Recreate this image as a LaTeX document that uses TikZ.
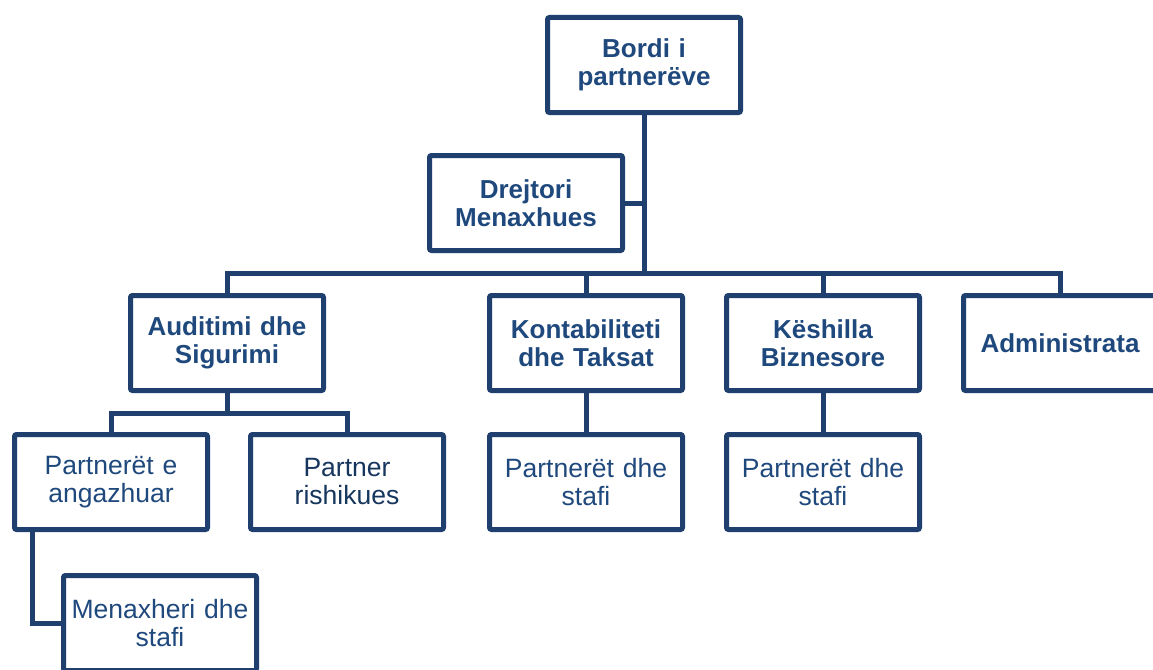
\documentclass[tikz,border=0pt]{standalone}
\usepackage{fontspec}
\setmainfont{Liberation Sans}
\definecolor{boxline}{HTML}{1F3F6E}
\definecolor{txtblue}{HTML}{1F497D}
\definecolor{txtdark}{HTML}{17365D}
\begin{document}
\begin{tikzpicture}[x=1pt,y=-1pt,
  orgbox/.style={draw=boxline, line width=5pt, rounded corners=2pt, fill=white,
    minimum width=193pt, minimum height=95pt, inner sep=0pt, align=center,
    text width=190pt, font=\fontsize{26.5}{28}\selectfont},
  headbox/.style={orgbox, text=txtblue, font=\fontsize{26}{28}\selectfont\bfseries},
  subbox/.style={orgbox, text=txtblue},
  link/.style={draw=boxline, line width=5pt}]
\useasboundingbox (0,0) rectangle (1153,669);
% nodes
\node[headbox] (bordi) at (644,65) {Bordi i\\partnerëve};
\node[headbox] (drej) at (526,203) {Drejtori\\Menaxhues};
\node[headbox] (aud) at (227,343) {Auditimi dhe\\Sigurimi};
\node[headbox] (kont) at (586,343) {Kontabiliteti\\dhe Taksat};
\node[headbox] (kesh) at (823,343) {Këshilla\\Biznesore};
\node[headbox] (admin) at (1060,343) {Administrata};
\node[subbox] (pea) at (111,482) {Partnerët e\\angazhuar};
\node[subbox, text=txtdark] (pr) at (347,482) {Partner\\rishikues};
\node[subbox] (kstaf) at (586,482) {Partnerët dhe\\stafi};
\node[subbox] (kstaf2) at (823,482) {Partnerët dhe\\stafi};
\node[subbox] (men) at (160,623) {Menaxheri dhe\\stafi};
% helper coordinates
\coordinate (bus) at (644,273);
\coordinate (subbus) at (227,413);
\coordinate (pedrop) at (32,532);
% connectors
\path[link] (bordi.south) -- (bus);
\path[link] (drej.east) -- (drej.east -| bus);
\path[link] (aud.north) |- (bus) -| (admin.north);
\path[link] (kont.north) -- (kont.north |- bus);
\path[link] (kesh.north) -- (kesh.north |- bus);
\path[link] (aud.south) -- (subbus);
\path[link] (pea.north) |- (subbus) -| (pr.north);
\path[link] (kont.south) -- (kstaf.north);
\path[link] (kesh.south) -- (kstaf2.north);
\path[link] (pedrop) |- (men.west);
\end{tikzpicture}
\end{document}
